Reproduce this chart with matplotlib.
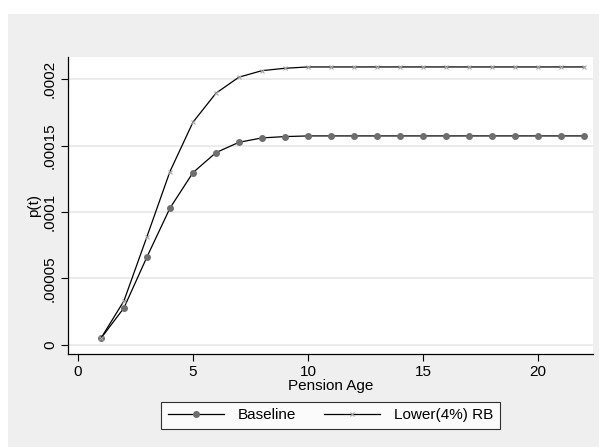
import numpy as np
import matplotlib
matplotlib.use("Agg")
import matplotlib.pyplot as plt
from matplotlib.patches import Rectangle

plt.rcParams['font.family'] = ['Liberation Sans', 'DejaVu Sans']

# data
age = list(range(1, 23))
baseline = [4.8e-6, 2.77e-5, 6.61e-5, 1.029e-4, 1.297e-4, 1.448e-4, 1.526e-4,
            1.559e-4, 1.569e-4] + [1.574e-4] * 13
lower_rb = [4.8e-6, 3.3e-5, 8.14e-5, 1.305e-4, 1.677e-4, 1.896e-4, 2.017e-4,
            2.066e-4, 2.084e-4] + [2.094e-4] * 13
yticks = [0, 0.00005, 0.0001, 0.00015, 0.0002]
ytick_labels = ["0", ".00005", ".0001", ".00015", ".0002"]
xticks = [0, 5, 10, 15, 20]

W, H = 599, 447
FS = 11
fig = plt.figure(figsize=(W / 100, H / 100), dpi=100)
fig.patch.set_facecolor("white")
# stata-ish grey graph region
fig.patches.append(Rectangle((8 / W, 0), 1, 1 - 14 / H, transform=fig.transFigure,
                             facecolor="#efefef", edgecolor="none", zorder=-10))

ax = fig.add_axes([68 / W, 1 - 354 / H, (593 - 68) / W, (354 - 57) / H])
ax.set_facecolor("white")

ax.plot(age, baseline, color="black", lw=0.9, marker="o", markersize=4.0,
        markerfacecolor="#6e6e6e", markeredgecolor="#6e6e6e", label="Baseline")
ax.plot(age, lower_rb, color="black", lw=0.9, marker="x", markersize=3.5,
        markeredgecolor="#a8a8a8", markeredgewidth=0.8, label="Lower(4%) RB")

ax.set_xlim(-0.43, 22.39)
ax.set_ylim(-0.000007, 0.0002169)
ax.set_xticks(xticks)
ax.set_yticks(yticks)
ax.set_yticklabels(ytick_labels, rotation=90, va="center")
ax.tick_params(direction="out", length=5, width=0.8, color="black",
               labelsize=FS, pad=3)
ax.yaxis.grid(True, color="#e8e8e8", lw=1.2)
ax.set_axisbelow(True)
for s in ["top", "right"]:
    ax.spines[s].set_visible(False)
for s in ["left", "bottom"]:
    ax.spines[s].set_linewidth(0.9)

ax.set_xlabel("Pension Age", fontsize=FS, labelpad=0)
ax.set_ylabel("p(t)", fontsize=FS, labelpad=1)

leg = ax.legend(loc="upper center", bbox_to_anchor=(0.5, -0.16), ncol=2,
                frameon=True, fancybox=False, fontsize=FS, handlelength=3.7,
                columnspacing=1.8, borderpad=0.45, handletextpad=0.9,
                borderaxespad=0)
leg.get_frame().set_edgecolor("black")
leg.get_frame().set_linewidth(0.8)
leg.get_frame().set_facecolor("white")

fig.savefig("out.png", dpi=100)
